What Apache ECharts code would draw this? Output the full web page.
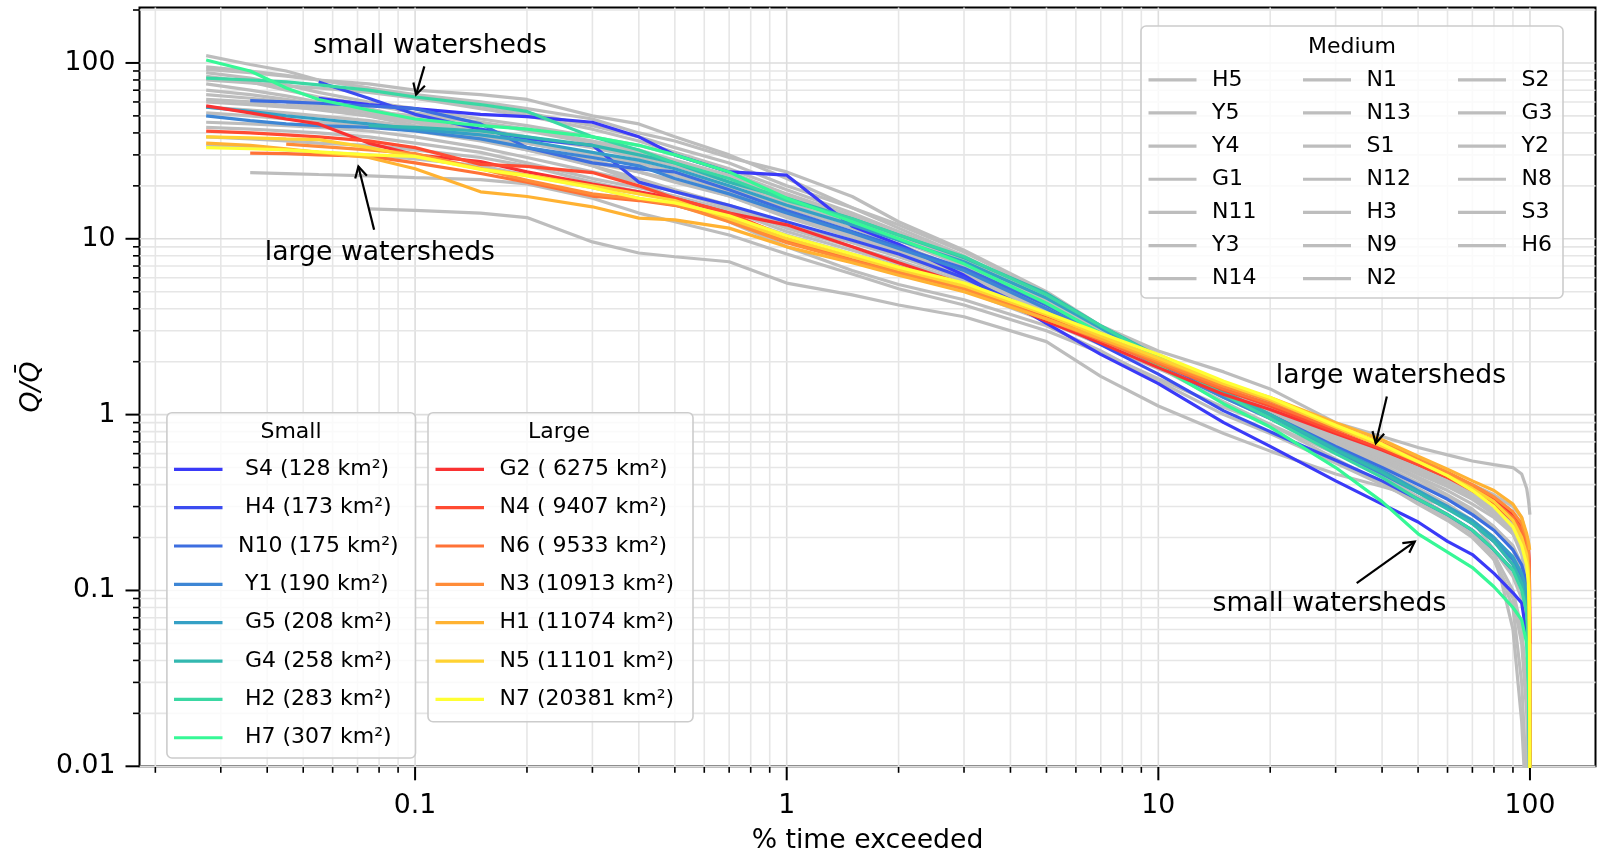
<!DOCTYPE html>
<html>
<head>
<meta charset="utf-8">
<script src="https://cdn.jsdelivr.net/npm/echarts@6/dist/echarts.min.js"></script>
<style>
  html, body { margin: 0; padding: 0; background: #fff; }
  #chart { width: 1600px; height: 853px; }
</style>
</head>
<body>
<div id="chart"></div>
<script>
// Flow duration curves: normalised discharge Q/Q̄ against % of time exceeded.

// Shared abscissa: % time exceeded
const pctExceeded = [0.0274, 0.036, 0.045, 0.055, 0.075, 0.1, 0.15, 0.2, 0.3, 0.4, 0.5, 0.7, 1, 1.5, 2, 3, 5, 7, 10, 15, 20, 30, 40, 50, 60, 70, 80, 90, 95, 98, 99, 99.5, 99.8, 99.95];

// ---- Small watersheds ----
const qS4  = [null, null, null, 63, 58, 55, 51, 49.5, 46, 38, 30, 24, 23, 11.8, 9.3, 6.2, 3.3, 2.2, 1.5, 0.9, 0.66, 0.42, 0.31, 0.245, 0.19, 0.16, 0.125, 0.097, 0.085, 0.055, 0.035, 0.02, 0.009, 0.004];
const qH4  = [null, null, null, 78, 63, 51, 42, 37, 34, 21, 18.5, 15.5, 12.5, 9.8, 8.2, 6.0, 3.6, 2.5, 1.7, 1.05, 0.8, 0.55, 0.42, 0.33, 0.27, 0.22, 0.17, 0.13, 0.11, 0.08, 0.06, 0.04, 0.02, 0.006];
const qN10 = [null, 61, 60, 59, 57, 55, 45, 33, 27, 25, 24, 19, 14.5, 11, 9, 6.8, 4.2, 2.9, 2.0, 1.3, 1.0, 0.66, 0.5, 0.4, 0.33, 0.27, 0.22, 0.17, 0.14, 0.11, 0.09, 0.06, 0.03, 0.008];
const qY1  = [50, 47, 45, 44, 43, 41, 37, 33, 29, 26, 22, 18, 14, 10.8, 8.8, 6.6, 4.0, 2.8, 1.9, 1.25, 0.95, 0.62, 0.46, 0.36, 0.3, 0.24, 0.19, 0.15, 0.12, 0.09, 0.06, 0.035, 0.015, 0.005];
const qG5  = [56, 53, 50, 48, 45, 42, 39, 36, 31, 28, 25, 20, 15.5, 12, 9.8, 7.4, 4.6, 3.1, 2.1, 1.35, 1.0, 0.64, 0.48, 0.37, 0.3, 0.25, 0.2, 0.155, 0.125, 0.1, 0.075, 0.05, 0.02, 0.004];
const qG4  = [null, null, null, null, 44, 43, 41, 38, 34, 30, 27, 21, 17, 13, 10.5, 7.8, 4.9, 3.2, 2.15, 1.35, 1.0, 0.63, 0.47, 0.36, 0.29, 0.24, 0.19, 0.14, 0.11, 0.08, 0.05, 0.025, 0.01, 0.003];
const qH2  = [82, 80, 78, 75, 70, 64, 58, 53, 38, 32, 27, 22, 16.5, 13, 10.5, 7.9, 4.8, 3.2, 2.1, 1.3, 0.95, 0.6, 0.44, 0.33, 0.27, 0.22, 0.17, 0.13, 0.1, 0.075, 0.05, 0.03, 0.012, 0.004];
const qH7  = [104, 90, 72, 62, 54, 48, 44, 42, 38, 34, 30, 24, 17, 12.5, 10, 7.2, 4.3, 2.9, 1.9, 1.15, 0.85, 0.5, 0.32, 0.21, 0.165, 0.135, 0.105, 0.08, 0.068, 0.05, 0.03, 0.015, 0.007, 0.003];

// ---- Large watersheds ----
const qG2 = [57, 52, 48, 45, 35, 30, 27.5, 24, 20.5, 18.5, 17, 14, 12, 9, 7.3, 5.5, 3.4, 2.55, 1.85, 1.3, 1.07, 0.78, 0.63, 0.52, 0.44, 0.38, 0.33, 0.27, 0.23, 0.2, 0.18, 0.15, 0.1, 0.05];
const qN4 = [41, 40, 39, 38, 36, 33, 26.5, 25.8, 23.8, 20, 17, 14, 10.2, 8, 6.9, 5.5, 3.6, 2.7, 1.95, 1.38, 1.12, 0.8, 0.64, 0.52, 0.44, 0.37, 0.31, 0.25, 0.21, 0.17, 0.14, 0.11, 0.05, 0.008];
const qN6 = [null, 30.7, 30.5, 30, 29.5, 27, 23.5, 21, 17.5, 16.5, 15.5, 13, 9.8, 7.6, 6.5, 5.3, 3.5, 2.65, 1.95, 1.4, 1.15, 0.83, 0.67, 0.55, 0.46, 0.39, 0.32, 0.26, 0.22, 0.18, 0.15, 0.12, 0.06, 0.01];
const qN3 = [null, null, 34.5, 33.5, 32, 30.5, 25, 21.5, 18, 16.8, 15.6, 12.5, 9.5, 7.5, 6.4, 5.2, 3.5, 2.7, 2.0, 1.45, 1.2, 0.86, 0.69, 0.56, 0.47, 0.4, 0.34, 0.28, 0.24, 0.2, 0.17, 0.13, 0.07, 0.012];
const qH1 = [35, 34, 32.5, 31, 29, 25, 18.5, 17.4, 15.2, 13.1, 12.8, 11.5, 9.0, 7.3, 6.2, 5.0, 3.5, 2.7, 2.05, 1.5, 1.25, 0.9, 0.72, 0.58, 0.49, 0.42, 0.37, 0.31, 0.26, 0.21, 0.19, 0.18, 0.17, 0.17];
const qN5 = [38, 37.5, 37, 36.6, 33, 29.4, 25, 23, 20, 18, 16.5, 13, 10, 7.9, 6.7, 5.4, 3.7, 2.8, 2.1, 1.5, 1.22, 0.85, 0.66, 0.54, 0.45, 0.38, 0.32, 0.25, 0.2, 0.16, 0.13, 0.1, 0.05, 0.005];
const qN7 = [33, 32.5, 32, 31.2, 30, 29.4, 24.8, 22.8, 19.5, 17, 16, 13.5, 10.4, 8.2, 6.9, 5.6, 3.8, 2.9, 2.2, 1.55, 1.25, 0.87, 0.68, 0.54, 0.45, 0.37, 0.3, 0.23, 0.18, 0.14, 0.11, 0.08, 0.04, 0.004];

// ---- Medium watersheds ----
const qH5  = [110, 98, 90, 80, 72, 66, 60, 55, 48, 40, 36, 29, 24, 17.4, 12.5, 8.6, 5.0, 3.2, 2.3, 1.75, 1.4, 0.9, 0.75, 0.65, 0.59, 0.545, 0.52, 0.5, 0.46, 0.38, 0.33, 0.3, 0.28, 0.27];
const qY5  = [95, 90, 85, 80, 76, 70, 66, 62, 50, 45, 38, 30, 22, 15, 11.5, 8.0, 4.6, 3.0, 2.0, 1.25, 0.95, 0.62, 0.45, 0.34, 0.27, 0.22, 0.17, 0.12, 0.09, 0.06, 0.04, 0.02, 0.009, 0.004];
const qY4  = [92, 88, 84, 80, 72, 63, 55, 50, 42, 36, 31, 25, 19, 14, 11, 7.8, 4.7, 3.1, 2.1, 1.3, 0.98, 0.64, 0.48, 0.38, 0.31, 0.25, 0.2, 0.15, 0.12, 0.09, 0.07, 0.05, 0.03, 0.005];
const qG1  = [88, 82, 75, 68, 60, 55, 48, 44, 38, 34, 30, 24, 18, 13.5, 10.8, 7.6, 4.5, 3.0, 2.05, 1.3, 0.98, 0.62, 0.45, 0.34, 0.27, 0.21, 0.16, 0.1, 0.06, 0.03, 0.015, 0.008, 0.005, 0.003];
const qN11 = [84, 78, 70, 64, 58, 52, 46, 41, 35, 31, 27, 22, 17, 12.8, 10.2, 7.3, 4.4, 3.0, 2.1, 1.4, 1.08, 0.72, 0.55, 0.44, 0.37, 0.31, 0.26, 0.21, 0.17, 0.13, 0.1, 0.07, 0.04, 0.006];
const qY3  = [80, 77, 74, 72, 68, 63, 57, 52, 44, 38, 33, 27, 20, 15, 12, 8.4, 4.9, 3.2, 2.2, 1.5, 1.18, 0.8, 0.62, 0.5, 0.44, 0.4, 0.35, 0.3, 0.26, 0.2, 0.15, 0.1, 0.05, 0.01];
const qN14 = [76, 70, 65, 60, 55, 48, 42, 38, 33, 29, 26, 21, 16, 12.2, 9.8, 7.0, 4.3, 2.9, 2.0, 1.3, 0.98, 0.64, 0.48, 0.37, 0.3, 0.24, 0.19, 0.14, 0.11, 0.08, 0.055, 0.035, 0.015, 0.004];
const qN1  = [70, 66, 62, 58, 53, 47, 40, 35, 30, 27, 24, 19.5, 15, 11.5, 9.3, 6.6, 4.1, 2.85, 2.05, 1.42, 1.12, 0.78, 0.62, 0.5, 0.42, 0.36, 0.3, 0.24, 0.19, 0.14, 0.1, 0.06, 0.02, 0.004];
const qN13 = [66, 63, 60, 57, 52, 46, 38, 33, 28, 24, 21, 17.5, 13.5, 10.5, 8.6, 6.3, 4.0, 2.8, 2.0, 1.38, 1.1, 0.76, 0.6, 0.49, 0.41, 0.35, 0.29, 0.23, 0.18, 0.13, 0.09, 0.05, 0.015, 0.003];
const qS1  = [62, 60, 57, 54, 50, 44, 39, 35, 30, 26, 23, 18.5, 14, 10.8, 8.8, 6.4, 4.0, 2.7, 1.85, 1.18, 0.88, 0.56, 0.41, 0.31, 0.25, 0.2, 0.15, 0.09, 0.05, 0.02, 0.009, 0.005, 0.003, 0.002];
const qN12 = [56, 54, 52, 50, 47, 43, 37, 32, 27, 24, 21.5, 17.5, 13.2, 10.2, 8.4, 6.2, 3.9, 2.75, 1.95, 1.36, 1.08, 0.74, 0.58, 0.47, 0.4, 0.34, 0.28, 0.22, 0.17, 0.12, 0.08, 0.045, 0.015, 0.004];
const qH3  = [52, 50, 48, 46, 44, 41, 36, 32, 26, 22, 19, 15.5, 12, 9.5, 7.9, 5.9, 3.8, 2.7, 1.92, 1.3, 1.02, 0.7, 0.54, 0.43, 0.35, 0.29, 0.23, 0.17, 0.13, 0.09, 0.06, 0.035, 0.012, 0.003];
const qN9  = [46, 45, 44, 43, 41, 38, 33, 29, 24, 21, 18.5, 15, 11.5, 9.0, 7.5, 5.7, 3.7, 2.65, 1.9, 1.32, 1.05, 0.72, 0.57, 0.46, 0.39, 0.33, 0.27, 0.21, 0.16, 0.11, 0.075, 0.04, 0.012, 0.003];
const qN2  = [43, 42, 41, 40, 38, 35, 31, 27, 22, 19.5, 17.5, 14.5, 11, 8.6, 7.2, 5.5, 3.6, 2.6, 1.88, 1.33, 1.07, 0.76, 0.6, 0.5, 0.43, 0.37, 0.31, 0.25, 0.2, 0.15, 0.11, 0.07, 0.03, 0.006];
const qS2  = [38, 37, 36, 35, 34, 32, 29, 26, 21, 18.5, 16.5, 13.5, 10.5, 8.2, 6.9, 5.3, 3.5, 2.55, 1.85, 1.3, 1.04, 0.73, 0.57, 0.47, 0.4, 0.34, 0.28, 0.22, 0.17, 0.12, 0.08, 0.04, 0.012, 0.003];
const qG3  = [34, 33, 32, 31, 30, 28.5, 26, 23, 19.5, 17, 15.5, 12.8, 10, 7.9, 6.6, 5.1, 3.4, 2.5, 1.82, 1.28, 1.03, 0.74, 0.59, 0.49, 0.42, 0.36, 0.3, 0.24, 0.19, 0.14, 0.1, 0.06, 0.02, 0.004];
const qY2  = [null, 23.8, 23.5, 23.2, 22.8, 22.3, 21.7, 20.5, 17, 14, 12.5, 10.5, 8.2, 6.3, 5.2, 4.2, 3.0, 2.25, 1.6, 1.1, 0.88, 0.6, 0.46, 0.37, 0.3, 0.25, 0.2, 0.15, 0.11, 0.07, 0.045, 0.025, 0.01, 0.003];
const qN8  = [null, null, null, null, 14.8, 14.5, 14, 13.2, 9.6, 8.3, 7.9, 7.4, 5.6, 4.8, 4.2, 3.6, 2.6, 1.65, 1.12, 0.78, 0.62, 0.46, 0.39, 0.34, 0.3, 0.25, 0.17, 0.06, 0.018, 0.005, 0.003, 0.002, 0.002, 0.002];
const qS3  = [null, null, 58, 55, 50, 46, 40, 33, 26, 21, 17, 12.5, 9, 6.6, 5.5, 4.5, 3.2, 2.3, 1.55, 1.0, 0.78, 0.53, 0.4, 0.32, 0.26, 0.21, 0.15, 0.08, 0.03, 0.008, 0.004, 0.003, 0.002, 0.002];
const qH6  = [60, 58, 56, 55, 53, 50, 46, 42, 36, 32, 28, 23, 17.5, 13.2, 10.5, 7.5, 4.5, 3.0, 2.05, 1.35, 1.02, 0.68, 0.52, 0.41, 0.34, 0.28, 0.23, 0.18, 0.14, 0.1, 0.07, 0.04, 0.015, 0.004];

// Legend labels (name and drainage area)
const smallLabels = [' S4 (128 km²)', ' H4 (173 km²)', 'N10 (175 km²)', ' Y1 (190 km²)', ' G5 (208 km²)', ' G4 (258 km²)', ' H2 (283 km²)', ' H7 (307 km²)'];
const smallFlows = [qS4, qH4, qN10, qY1, qG5, qG4, qH2, qH7];
const largeLabels = ['G2 ( 6275 km²)', 'N4 ( 9407 km²)', 'N6 ( 9533 km²)', 'N3 (10913 km²)', 'H1 (11074 km²)', 'N5 (11101 km²)', 'N7 (20381 km²)'];
const largeFlows = [qG2, qN4, qN6, qN3, qH1, qN5, qN7];
const mediumLabels = ['H5', 'Y5', 'Y4', 'G1', 'N11', 'Y3', 'N14', 'N1', 'N13', 'S1', 'N12', 'H3', 'N9', 'N2', 'S2', 'G3', 'Y2', 'N8', 'S3', 'H6'];
const mediumFlows = [qH5, qY5, qY4, qG1, qN11, qY3, qN14, qN1, qN13, qS1, qN12, qH3, qN9, qN2, qS2, qG3, qY2, qN8, qS3, qH6];

// Tick labels at each decade
const xTickValues = [0.1, 1, 10, 100];
const xTickLabels = ['0.1', '1', '10', '100'];
const yTickValues = [0.01, 0.1, 1, 10, 100];
const yTickLabels = ['0.01', '0.1', '1', '10', '100'];

// Annotation anchors in data units
const annotations = [
  { text: 'small watersheds', at: [0.1097, 130.1], tail: [0.1059, 95.6], head: [0.1006, 66.0] },
  { text: 'large watersheds', at: [0.0804, 8.665], tail: [0.07757, 11.26], head: [0.07038, 25.8] },
  { text: 'large watersheds', at: [42.27, 1.729], tail: [41.2, 1.268], head: [38.47, 0.688] },
  { text: 'small watersheds', at: [28.87, 0.0866], tail: [34.18, 0.11], head: [48.98, 0.1897] }
];

// ---- styling ----
const FONT = 'DejaVu Sans';
const smallColors = ['#3a3af8', '#3b4cf0', '#3d6ee0', '#3d86d5', '#35a0c5', '#33b8b0', '#3ad8a3', '#36f896'];
const largeColors = ['#fa3232', '#ff4b32', '#ff7236', '#ff8c38', '#ffb232', '#ffd232', '#ffff33'];
const mediumColor = '#bdbdbd';
const LINE_W = 3.2;
const TEXT_DY = 3;   // optical centring of text on its anchor

const X_MIN = 0.01813, X_MAX = 150.1;
const Y_MIN = 0.01, Y_MAX = 206.4;

function toPairs(ys) {
  const out = [];
  ys.forEach((y, i) => { if (y != null) out.push([pctExceeded[i], y]); });
  return out;
}

function lineSeries(name, ys, color, z) {
  return {
    type: 'line', name, data: toPairs(ys), color,
    symbol: 'none', showSymbol: false, smooth: false, clip: true,
    lineStyle: { width: LINE_W, color }, z, silent: true, animation: false
  };
}

function decadeLabel(values, labels) {
  return function (v) {
    const e = Math.log10(v);
    if (Math.abs(e - Math.round(e)) > 1e-6) return '';
    const idx = values.findIndex(t => Math.abs(Math.log10(t) - e) < 1e-6);
    return idx < 0 ? '' : labels[idx];
  };
}

// Minor decade subdivisions (2..9 × 10^k) inside an axis range
function minorValues(lo, hi) {
  const out = [];
  for (let d = -3; d <= 3; d++) {
    for (let m = 2; m <= 9; m++) {
      const v = +(m * Math.pow(10, d)).toPrecision(6);
      if (v > lo && v < hi) out.push(v);
    }
  }
  return out;
}

// rows for the grid/tick layer: [x, y, axis(0=x,1=y), major(1/0)]
const gridRows = [];
xTickValues.forEach(v => gridRows.push([v, 1, 0, 1]));
minorValues(X_MIN, X_MAX).forEach(v => gridRows.push([v, 1, 0, 0]));
yTickValues.forEach(v => gridRows.push([1, v, 1, 1]));
minorValues(Y_MIN, Y_MAX).forEach(v => gridRows.push([1, v, 1, 0]));

function renderGridTick(params, api) {
  const cs = params.coordSys;
  const onX = api.value(2) === 0;
  const major = api.value(3) === 1;
  const len = major ? 14 : 6.5;
  const gridColor = major ? '#dddddd' : '#e6e6e6';
  const tickW = major ? 2 : 1.6;
  if (onX) {
    const px = api.coord([api.value(0), 1])[0];
    const yb = cs.y + cs.height;
    return { type: 'group', children: [
      { type: 'line', shape: { x1: px, y1: cs.y, x2: px, y2: yb }, style: { stroke: gridColor, lineWidth: 1.6 } },
      { type: 'line', shape: { x1: px, y1: yb, x2: px, y2: yb + len }, style: { stroke: '#000', lineWidth: tickW } }
    ] };
  }
  const py = api.coord([1, api.value(1)])[1];
  const xl = cs.x;
  return { type: 'group', children: [
    { type: 'line', shape: { x1: xl, y1: py, x2: xl + cs.width, y2: py }, style: { stroke: gridColor, lineWidth: 1.6 } },
    { type: 'line', shape: { x1: xl - len, y1: py, x2: xl, y2: py }, style: { stroke: '#000', lineWidth: tickW } }
  ] };
}

const series = [
  { type: 'custom', name: 'grid', data: gridRows, renderItem: renderGridTick, clip: false, silent: true, z: 1, animation: false }
];
mediumLabels.forEach((n, i) => series.push(lineSeries(n, mediumFlows[i], mediumColor, 2)));
smallLabels.forEach((n, i) => series.push(lineSeries(n, smallFlows[i], smallColors[i], 3)));
largeLabels.forEach((n, i) => series.push(lineSeries(n, largeFlows[i], largeColors[i], 3)));

function legendBlock(names, left, top, pitch, width) {
  return {
    data: names, orient: 'vertical', left, top,
    itemWidth: width, itemHeight: 3.2, itemGap: pitch - 30, icon: 'rect',
    padding: 0, selectedMode: false, backgroundColor: 'transparent',
    itemStyle: { borderWidth: 0 },
    textStyle: { fontFamily: FONT, fontSize: 22, color: '#000', lineHeight: 30, padding: [0, 0, 0, 10.5] },
    z: 6
  };
}

const chart = echarts.init(document.getElementById('chart'), null, { renderer: 'canvas' });

chart.setOption({
  animation: false,
  backgroundColor: '#fff',
  textStyle: { fontFamily: FONT },
  grid: {
    left: 139.5, right: 4.5, top: 7.6, bottom: 86.7,
    outerBoundsMode: 'none', containLabel: false,
    show: true, borderColor: '#000', borderWidth: 2, backgroundColor: 'transparent'
  },
  xAxis: {
    type: 'log', logBase: 10, min: X_MIN, max: X_MAX,
    axisLine: { show: false }, axisTick: { show: false }, splitLine: { show: false },
    axisLabel: { formatter: decadeLabel(xTickValues, xTickLabels), fontSize: 26.7, color: '#000', margin: 26, fontFamily: FONT },
    name: '% time exceeded', nameLocation: 'middle', nameGap: 61,
    nameTextStyle: { fontSize: 26.7, color: '#000', fontFamily: FONT }
  },
  yAxis: {
    type: 'log', logBase: 10, min: Y_MIN, max: Y_MAX,
    axisLine: { show: false }, axisTick: { show: false }, splitLine: { show: false },
    axisLabel: { formatter: decadeLabel(yTickValues, yTickLabels), fontSize: 26.7, color: '#000', margin: 24, fontFamily: FONT },
    name: 'Q/Q\u0304', nameLocation: 'middle', nameGap: 86, nameRotate: 90,
    nameTextStyle: { fontSize: 26.7, color: '#000', fontFamily: FONT, fontStyle: 'italic' }
  },
  legend: [
    legendBlock(smallLabels, 174, 454.3, 38.35, 48.5),
    legendBlock(largeLabels, 435.5, 454.3, 38.35, 48.5),
    legendBlock(mediumLabels.slice(0, 7), 1148.5, 64.8, 33.15, 48),
    legendBlock(mediumLabels.slice(7, 14), 1303, 64.8, 33.15, 48),
    legendBlock(mediumLabels.slice(14), 1458, 64.8, 33.15, 48)
  ],
  series
});

// Legend frames, titles and annotation arrows
const graphics = [];
function frame(x, y, w, h) {
  graphics.push({ type: 'rect', shape: { x, y, width: w, height: h, r: 5 }, style: { fill: 'rgba(255,255,255,0.8)', stroke: '#cccccc', lineWidth: 1.6 }, z: 5, silent: true });
}
function title(text, x, y) {
  graphics.push({ type: 'text', x, y: y + 2, style: { text, font: '22px "' + FONT + '"', fill: '#000', align: 'center', verticalAlign: 'middle' }, z: 7, silent: true });
}
frame(166.9, 412.7, 248.6, 345.3);
frame(428, 412.7, 265, 309);
frame(1141, 26, 422, 272);
title('Small', 291, 430.6);
title('Large', 559, 430.6);
title('Medium', 1352, 45);

annotations.forEach(a => {
  const p = chart.convertToPixel({ gridIndex: 0 }, a.at);
  const t = chart.convertToPixel({ gridIndex: 0 }, a.tail);
  const h = chart.convertToPixel({ gridIndex: 0 }, a.head);
  graphics.push({ type: 'text', x: p[0], y: p[1] + TEXT_DY, style: { text: a.text, font: '26.7px "' + FONT + '"', fill: '#000', align: 'center', verticalAlign: 'middle' }, z: 8, silent: true });
  graphics.push({ type: 'polyline', shape: { points: [t, h] }, style: { stroke: '#000', lineWidth: 2.2, fill: null }, z: 8, silent: true });
  const ang = Math.atan2(h[1] - t[1], h[0] - t[0]);
  const L = 11, W = 6;
  const bx = h[0] - L * Math.cos(ang), by = h[1] - L * Math.sin(ang);
  const nx = -Math.sin(ang) * W, ny = Math.cos(ang) * W;
  graphics.push({ type: 'polyline', shape: { points: [[bx + nx, by + ny], h, [bx - nx, by - ny]] }, style: { stroke: '#000', lineWidth: 2.2, fill: null }, z: 8, silent: true });
});

chart.setOption({ graphic: graphics });
</script>
</body>
</html>
